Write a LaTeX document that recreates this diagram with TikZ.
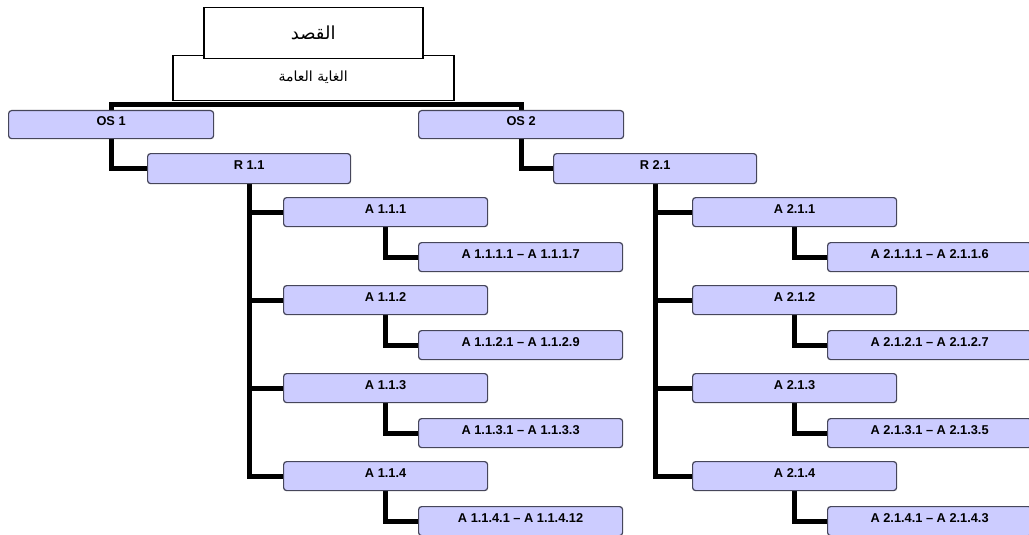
\documentclass[tikz,border=0pt]{standalone}
\usepackage{fontspec}
\setmainfont{Liberation Sans}
\newfontfamily\arabicfont[Script=Arabic]{DejaVu Sans}
\TeXXeTstate=1
\usetikzlibrary{backgrounds}
\definecolor{boxfill}{RGB}{204,204,255}
\definecolor{boxline}{RGB}{70,70,90}
\tikzset{
    itembox/.style={draw=boxline, line width=1.2pt, fill=boxfill, rounded corners=3pt,
            anchor=north west, minimum width=204pt, minimum height=29pt, inner sep=0pt,
            text height=8pt, text depth=6pt, font=\fontsize{12.8}{14}\selectfont\bfseries},
    headbox/.style={draw=black, line width=1.5pt, fill=white, anchor=north west, inner sep=0pt},
    link/.style={line width=5pt, black},
}

\begin{document}
\begin{tikzpicture}[x=1pt, y=-1pt]
        \useasboundingbox (0,0) rectangle (1029,535);
        \clip (0,0) rectangle (1029,535);
        %draw goal and purpose
        \node[headbox, minimum width=281pt, minimum height=45pt, text depth=5pt,
            font=\arabicfont\fontsize{14}{16}\selectfont] (goal) at (172,55) {\beginR الغاية العامة\endR};
        \node[headbox, minimum width=219pt, minimum height=51pt,
            font=\arabicfont\fontsize{18}{20}\selectfont] (purpose) at (203,7) {\beginR القصد\endR};
        %draw specific objectives and results
        \node[itembox, minimum width=205pt, minimum height=28pt] (os1) at (8,110) {OS 1};
        \node[itembox, minimum width=205pt, minimum height=28pt] (os2) at (418,110) {OS 2};
        \node[itembox, minimum width=203pt, minimum height=30pt] (r11) at (147,153) {R 1.1};
        \node[itembox, minimum width=203pt, minimum height=30pt] (r21) at (553,153) {R 2.1};
        %draw activities and sub-activities
        \foreach \i/\m/\n [evaluate=\i as \ya using 197+88*(\i-1),
                evaluate=\i as \yb using 242+88*(\i-1)] in {1/7/6, 2/9/7, 3/3/5, 4/12/3} {
            \node[itembox] (a11\i) at (283,\ya) {A 1.1.\i};
            \node[itembox] (b11\i) at (418,\yb) {A 1.1.\i.1 -- A 1.1.\i.\m};
            \node[itembox] (a21\i) at (692,\ya) {A 2.1.\i};
            \node[itembox] (b21\i) at (827,\yb) {A 2.1.\i.1 -- A 2.1.\i.\n};
        }
        %draw connectors
        \begin{scope}[on background layer]
            \draw[link] (os1.north) |- ([yshift=-3pt]goal.south) -| (os2.north);
            \draw[link] (os1.south) |- (r11.west);
            \draw[link] (os2.south) |- (r21.west);
            \foreach \i in {1,...,4} {
                \draw[link] (r11.south) |- (a11\i.west);
                \draw[link] (a11\i.south) |- (b11\i.west);
                \draw[link] (r21.south) |- (a21\i.west);
                \draw[link] (a21\i.south) |- (b21\i.west);
            }
        \end{scope}
    \end{tikzpicture}
\end{document}
